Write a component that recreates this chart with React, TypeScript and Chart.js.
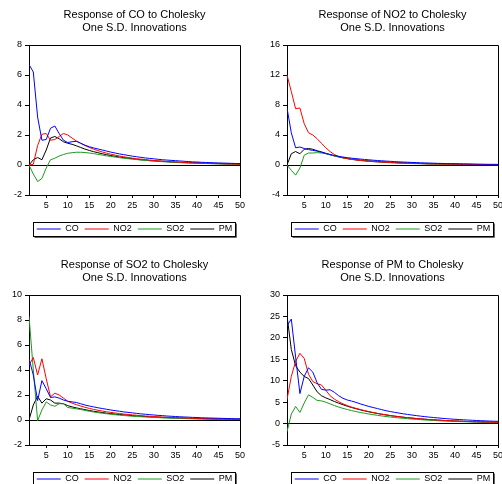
import React, { useEffect, useRef } from "react";
import { Chart, registerables } from "chart.js";

Chart.register(...registerables);
Chart.defaults.font.family = "'Liberation Sans', Arial, sans-serif";

// ---------- data ----------
const PERIODS = [
  1, 2, 3, 4, 5, 6, 7, 8, 9, 10, 11, 12, 13, 14, 15, 16, 17, 18, 19, 20, 21, 22, 23, 24, 25,
  26, 27, 28, 29, 30, 31, 32, 33, 34, 35, 36, 37, 38, 39, 40, 41, 42, 43, 44, 45, 46, 47, 48, 49, 50,
];
const X_TICKS = [5, 10, 15, 20, 25, 30, 35, 40, 45, 50];
const SERIES_NAMES = ["CO", "NO2", "SO2", "PM"];

// Response of CO
const CO_TO_CO = [6.7, 6.2, 3.2, 1.65, 1.7, 2.45, 2.6, 2.1, 1.65, 1.5, 1.55, 1.58, 1.45, 1.32, 1.22, 1.14, 1.07, 1.0, 0.93, 0.86, 0.8, 0.74, 0.69, 0.64, 0.59, 0.55, 0.51, 0.47, 0.44, 0.41, 0.38, 0.35, 0.33, 0.31, 0.29, 0.27, 0.25, 0.23, 0.21, 0.2, 0.18, 0.17, 0.16, 0.15, 0.14, 0.13, 0.12, 0.11, 0.1, 0.1];
const CO_TO_NO2 = [0, 0.05, 1.3, 2.05, 2.1, 1.65, 1.7, 1.9, 2.1, 2.0, 1.8, 1.6, 1.45, 1.3, 1.17, 1.06, 0.96, 0.87, 0.79, 0.72, 0.66, 0.6, 0.55, 0.5, 0.46, 0.42, 0.39, 0.36, 0.33, 0.3, 0.28, 0.26, 0.24, 0.22, 0.2, 0.19, 0.17, 0.16, 0.15, 0.14, 0.13, 0.12, 0.11, 0.1, 0.09, 0.09, 0.08, 0.07, 0.07, 0.06];
const CO_TO_SO2 = [0, -0.6, -1.1, -0.9, -0.2, 0.35, 0.45, 0.6, 0.7, 0.78, 0.82, 0.85, 0.85, 0.83, 0.8, 0.76, 0.71, 0.66, 0.61, 0.57, 0.53, 0.49, 0.45, 0.42, 0.39, 0.36, 0.33, 0.31, 0.28, 0.26, 0.24, 0.22, 0.21, 0.19, 0.18, 0.16, 0.15, 0.14, 0.13, 0.12, 0.11, 0.1, 0.09, 0.09, 0.08, 0.07, 0.07, 0.06, 0.06, 0.05];
const CO_TO_PM = [0, 0.35, 0.5, 0.35, 1.0, 1.8, 1.9, 1.75, 1.55, 1.45, 1.38, 1.28, 1.17, 1.06, 0.97, 0.89, 0.82, 0.75, 0.69, 0.63, 0.58, 0.53, 0.49, 0.45, 0.42, 0.38, 0.35, 0.33, 0.3, 0.28, 0.26, 0.24, 0.22, 0.2, 0.19, 0.17, 0.16, 0.15, 0.14, 0.13, 0.12, 0.11, 0.1, 0.09, 0.09, 0.08, 0.07, 0.07, 0.06, 0.06];

// Response of NO2
const NO2_TO_CO = [7.6, 4.3, 2.3, 2.4, 2.2, 2.05, 1.95, 1.85, 1.7, 1.55, 1.4, 1.27, 1.15, 1.06, 0.98, 0.91, 0.85, 0.79, 0.74, 0.69, 0.64, 0.6, 0.56, 0.52, 0.49, 0.45, 0.42, 0.39, 0.37, 0.34, 0.32, 0.3, 0.28, 0.26, 0.24, 0.22, 0.21, 0.19, 0.18, 0.17, 0.16, 0.15, 0.14, 0.13, 0.12, 0.11, 0.1, 0.09, 0.09, 0.08];
const NO2_TO_NO2 = [12.0, 9.8, 7.5, 7.6, 5.5, 4.3, 4.0, 3.5, 2.9, 2.3, 1.8, 1.4, 1.15, 0.97, 0.85, 0.75, 0.67, 0.6, 0.55, 0.5, 0.46, 0.42, 0.39, 0.36, 0.33, 0.31, 0.28, 0.26, 0.24, 0.22, 0.2, 0.19, 0.17, 0.16, 0.15, 0.14, 0.13, 0.12, 0.11, 0.1, 0.09, 0.08, 0.08, 0.07, 0.07, 0.06, 0.06, 0.05, 0.05, 0.04];
const NO2_TO_SO2 = [0, -0.7, -1.35, -0.4, 1.3, 1.6, 1.6, 1.65, 1.6, 1.5, 1.35, 1.2, 1.07, 0.95, 0.85, 0.76, 0.68, 0.61, 0.55, 0.5, 0.45, 0.41, 0.37, 0.34, 0.31, 0.28, 0.26, 0.24, 0.22, 0.2, 0.18, 0.17, 0.15, 0.14, 0.13, 0.12, 0.11, 0.1, 0.09, 0.09, 0.08, 0.07, 0.07, 0.06, 0.06, 0.05, 0.05, 0.04, 0.04, 0.04];
const NO2_TO_PM = [0, 1.5, 1.8, 1.5, 2.1, 2.2, 2.1, 1.9, 1.75, 1.55, 1.38, 1.22, 1.08, 0.96, 0.86, 0.78, 0.71, 0.65, 0.59, 0.54, 0.5, 0.46, 0.42, 0.39, 0.36, 0.33, 0.3, 0.28, 0.26, 0.24, 0.22, 0.2, 0.19, 0.17, 0.16, 0.15, 0.14, 0.13, 0.12, 0.11, 0.1, 0.09, 0.09, 0.08, 0.07, 0.07, 0.06, 0.06, 0.05, 0.05];

// Response of SO2
const SO2_TO_CO = [4.9, 3.6, 1.55, 3.15, 2.5, 1.8, 1.85, 1.75, 1.6, 1.5, 1.45, 1.4, 1.3, 1.2, 1.12, 1.05, 0.98, 0.92, 0.86, 0.8, 0.75, 0.7, 0.65, 0.61, 0.57, 0.53, 0.49, 0.46, 0.43, 0.4, 0.37, 0.35, 0.32, 0.3, 0.28, 0.26, 0.24, 0.23, 0.21, 0.2, 0.18, 0.17, 0.16, 0.15, 0.14, 0.13, 0.12, 0.11, 0.1, 0.1];
const SO2_TO_NO2 = [4.4, 5.0, 3.6, 4.9, 3.3, 1.85, 2.15, 2.0, 1.75, 1.5, 1.35, 1.23, 1.12, 1.02, 0.93, 0.85, 0.78, 0.72, 0.66, 0.61, 0.56, 0.52, 0.48, 0.44, 0.41, 0.38, 0.35, 0.32, 0.3, 0.28, 0.26, 0.24, 0.22, 0.2, 0.19, 0.17, 0.16, 0.15, 0.14, 0.13, 0.12, 0.11, 0.1, 0.09, 0.09, 0.08, 0.07, 0.07, 0.06, 0.06];
const SO2_TO_SO2 = [8.3, 4.0, -0.05, 0.8, 1.45, 1.2, 1.1, 1.3, 1.3, 1.0, 0.95, 0.9, 0.84, 0.77, 0.7, 0.64, 0.59, 0.54, 0.5, 0.46, 0.42, 0.39, 0.36, 0.33, 0.3, 0.28, 0.26, 0.24, 0.22, 0.2, 0.19, 0.17, 0.16, 0.15, 0.14, 0.13, 0.12, 0.11, 0.1, 0.09, 0.09, 0.08, 0.07, 0.07, 0.06, 0.06, 0.05, 0.05, 0.05, 0.04];
const SO2_TO_PM = [0, 1.2, 1.9, 1.35, 1.7, 1.6, 1.35, 1.35, 1.3, 1.15, 1.05, 0.97, 0.9, 0.83, 0.76, 0.7, 0.65, 0.6, 0.55, 0.51, 0.47, 0.44, 0.41, 0.38, 0.35, 0.32, 0.3, 0.28, 0.26, 0.24, 0.22, 0.2, 0.19, 0.17, 0.16, 0.15, 0.14, 0.13, 0.12, 0.11, 0.1, 0.09, 0.09, 0.08, 0.07, 0.07, 0.06, 0.06, 0.05, 0.05];

// Response of PM
const PM_TO_CO = [22.8, 24.4, 15.5, 7.0, 11.0, 13.0, 12.0, 9.5, 8.0, 7.8, 7.9, 7.3, 6.5, 5.9, 5.5, 5.25, 4.95, 4.6, 4.3, 4.0, 3.75, 3.5, 3.25, 3.0, 2.8, 2.62, 2.45, 2.28, 2.13, 2.0, 1.86, 1.74, 1.62, 1.51, 1.41, 1.32, 1.23, 1.15, 1.07, 1.0, 0.94, 0.88, 0.82, 0.77, 0.72, 0.67, 0.63, 0.59, 0.55, 0.52];
const PM_TO_NO2 = [5.6, 11.0, 14.5, 16.4, 15.2, 11.5, 9.8, 9.3, 9.0, 7.8, 6.5, 5.7, 5.1, 4.6, 4.2, 3.85, 3.55, 3.28, 3.03, 2.8, 2.58, 2.38, 2.2, 2.03, 1.88, 1.74, 1.61, 1.49, 1.38, 1.28, 1.18, 1.1, 1.02, 0.94, 0.87, 0.81, 0.75, 0.7, 0.65, 0.6, 0.56, 0.52, 0.48, 0.45, 0.42, 0.39, 0.36, 0.34, 0.31, 0.29];
const PM_TO_SO2 = [-1.9, 2.2, 4.0, 2.6, 4.8, 6.7, 6.1, 5.4, 5.3, 5.0, 4.6, 4.2, 3.85, 3.55, 3.28, 3.03, 2.8, 2.6, 2.41, 2.23, 2.07, 1.92, 1.78, 1.65, 1.53, 1.42, 1.32, 1.22, 1.13, 1.05, 0.98, 0.91, 0.84, 0.78, 0.73, 0.68, 0.63, 0.58, 0.54, 0.5, 0.47, 0.44, 0.41, 0.38, 0.35, 0.33, 0.3, 0.28, 0.26, 0.25];
const PM_TO_PM = [25.2, 17.3, 13.5, 12.0, 11.0, 10.5, 9.0, 7.4, 6.5, 6.0, 5.6, 5.15, 4.75, 4.4, 4.05, 3.75, 3.47, 3.2, 2.96, 2.74, 2.54, 2.35, 2.17, 2.01, 1.86, 1.72, 1.6, 1.48, 1.37, 1.27, 1.18, 1.09, 1.01, 0.94, 0.87, 0.81, 0.75, 0.7, 0.65, 0.6, 0.56, 0.52, 0.48, 0.45, 0.42, 0.39, 0.36, 0.34, 0.31, 0.29];

// ---------- styles ----------
const SERIES_COLORS = ["#0000ff", "#ff0000", "#1c9a1c", "#000000"];
const FONT = "'Liberation Sans', Arial, sans-serif";
const W = 250;
const H = 250;

const framePlugin = {
  id: "eviewsFrame",
  afterDatasetsDraw(chart: any) {
    const { ctx, chartArea: a } = chart;
    const al = (p: number) => Math.round(p - 0.5) + 0.5;
    ctx.save();
    ctx.strokeStyle = "#000";
    ctx.lineWidth = 1;
    ctx.beginPath();
    ctx.moveTo(al(a.left), al(a.top));
    ctx.lineTo(al(a.right), al(a.top));
    ctx.lineTo(al(a.right), al(a.bottom));
    ctx.stroke();
    ctx.restore();
  },
  afterDraw(chart: any) {
    const lg = chart.legend;
    const boxes = lg && lg.legendHitBoxes;
    if (!boxes || !boxes.length) return;
    const { ctx } = chart;
    let l = Infinity;
    let r = -Infinity;
    for (const b of boxes) {
      l = Math.min(l, b.left);
      r = Math.max(r, b.left + b.width);
    }
    const cy = boxes[0].top + boxes[0].height / 2;
    const x0 = Math.round(l - 4) + 0.5;
    const x1 = Math.round(r + 3) + 0.5;
    const y0 = Math.round(cy - 7) + 0.5;
    const y1 = Math.round(cy + 7) + 0.5;
    ctx.save();
    ctx.lineWidth = 1;
    ctx.strokeStyle = "#000";
    ctx.strokeRect(x0, y0, x1 - x0, y1 - y0);
    ctx.strokeStyle = "#666";
    ctx.beginPath();
    ctx.moveTo(x0 + 1, y1 + 1);
    ctx.lineTo(x1 + 1, y1 + 1);
    ctx.lineTo(x1 + 1, y0 + 1);
    ctx.stroke();
    ctx.restore();
  },
};

type PanelProps = {
  title: string[];
  series: number[][];
  yMin: number;
  yMax: number;
  yStep: number;
  left: number;
  top: number;
};

function Panel({ title, series, yMin, yMax, yStep, left, top }: PanelProps) {
  const ref = useRef<HTMLCanvasElement>(null);
  useEffect(() => {
    const chart = new Chart(ref.current as HTMLCanvasElement, {
      type: "line",
      data: {
        datasets: SERIES_NAMES.map((name, i) => ({
          label: name,
          data: PERIODS.map((p, j) => ({ x: p, y: series[i][j] })),
          borderColor: SERIES_COLORS[i],
          backgroundColor: SERIES_COLORS[i],
          borderWidth: 1,
          pointRadius: 0,
          fill: false,
          tension: 0,
        })),
      },
      options: {
        responsive: false,
        animation: false,
        devicePixelRatio: 1,
        layout: { padding: { left: 0, right: 10, top: 0, bottom: 6.5 } },
        scales: {
          x: {
            type: "linear",
            min: 1,
            max: 50,
            afterBuildTicks: (s: any) => {
              s.ticks = X_TICKS.map((v) => ({ value: v }));
            },
            afterFit: (s: any) => {
              s.height = 23.5;
            },
            ticks: { font: { size: 9, family: FONT }, color: "#000", padding: 2, maxRotation: 0, autoSkip: false },
            grid: { display: true, drawOnChartArea: false, tickLength: 3, tickColor: "#000", color: "#000" },
            border: { display: true, color: "#000", width: 1 },
          },
          y: {
            type: "linear",
            min: yMin,
            max: yMax,
            afterFit: (s: any) => {
              s.width = 29;
            },
            ticks: { stepSize: yStep, font: { size: 9, family: FONT }, color: "#000", padding: 3 },
            grid: {
              display: true,
              drawOnChartArea: true,
              tickLength: 4,
              tickColor: "#000",
              color: (c: any) => (c.tick && c.tick.value === 0 ? "#000" : "rgba(0,0,0,0)"),
            },
            border: { display: true, color: "#000", width: 1 },
          },
        },
        plugins: {
          title: {
            display: true,
            text: title,
            fullSize: false,
            color: "#000",
            font: { size: 11, weight: "normal", family: FONT, lineHeight: 1.2 },
            padding: { top: 8, bottom: 10.6 },
          },
          legend: {
            display: true,
            position: "bottom",
            fullSize: false,
            labels: {
              usePointStyle: true,
              pointStyle: "line",
              pointStyleWidth: 24,
              boxHeight: 9,
              padding: 6,
              color: "#000",
              font: { size: 9, family: FONT },
            },
          },
          tooltip: { enabled: false },
        },
      } as any,
      plugins: [framePlugin],
    });
    return () => chart.destroy();
  }, []);
  return (
    <canvas
      ref={ref}
      width={W}
      height={H}
      style={{ position: "absolute", left, top, width: W, height: H }}
    />
  );
}

export default function App() {
  return (
    <div
      style={{
        position: "absolute",
        left: 0,
        top: 0,
        width: 502,
        height: 484,
        overflow: "hidden",
        background: "#fff",
      }}
    >
      <Panel
        title={["Response of CO to Cholesky", "One S.D. Innovations"]}
        series={[CO_TO_CO, CO_TO_NO2, CO_TO_SO2, CO_TO_PM]}
        yMin={-2}
        yMax={8}
        yStep={2}
        left={0}
        top={0}
      />
      <Panel
        title={["Response of NO2 to Cholesky", "One S.D. Innovations"]}
        series={[NO2_TO_CO, NO2_TO_NO2, NO2_TO_SO2, NO2_TO_PM]}
        yMin={-4}
        yMax={16}
        yStep={4}
        left={258}
        top={0}
      />
      <Panel
        title={["Response of SO2 to Cholesky", "One S.D. Innovations"]}
        series={[SO2_TO_CO, SO2_TO_NO2, SO2_TO_SO2, SO2_TO_PM]}
        yMin={-2}
        yMax={10}
        yStep={2}
        left={0}
        top={250}
      />
      <Panel
        title={["Response of PM to Cholesky", "One S.D. Innovations"]}
        series={[PM_TO_CO, PM_TO_NO2, PM_TO_SO2, PM_TO_PM]}
        yMin={-5}
        yMax={30}
        yStep={5}
        left={258}
        top={250}
      />
    </div>
  );
}
